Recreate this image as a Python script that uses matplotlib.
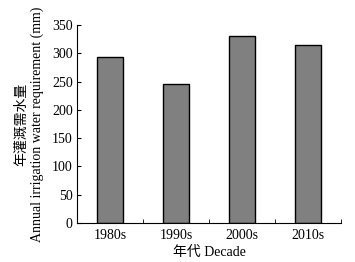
import matplotlib
matplotlib.use("Agg")
import matplotlib.pyplot as plt
import numpy as np

decades = ["1980s", "1990s", "2000s", "2010s"]
values = [293, 246, 331, 315]
yticks = [0, 50, 100, 150, 200, 250, 300, 350]

plt.rcParams['font.family'] = ['Liberation Serif', 'Noto Sans CJK SC']
plt.rcParams['font.size'] = 10

fig = plt.figure(figsize=(3.55, 2.62), dpi=100)
ax = fig.add_axes([77/355, 1-223/262, 264/355, 198/262])
x = np.arange(len(decades))
ax.bar(x, values, width=0.4, color='#808080', edgecolor='black', linewidth=1.0)
ax.set_xlim(-0.5, 3.5)
ax.set_ylim(0, 350)
ax.set_yticks(yticks)
ax.set_xticks(x)
ax.set_xticklabels(decades)
ax.set_xticks([0.5, 1.5, 2.5, 3.5], minor=True)
ax.tick_params(axis='x', which='major', length=0, pad=4)
ax.tick_params(axis='x', which='minor', direction='in', length=3)
ax.tick_params(axis='y', direction='in', length=3, pad=3)
for s in ['top', 'right']:
    ax.spines[s].set_visible(False)
ax.set_xlabel("年代 Decade", labelpad=3)
ax.set_ylabel("年灌溉需水量\nAnnual irrigation water requirement (mm)", labelpad=6, linespacing=1.2)
fig.savefig("out.png", dpi=100)
